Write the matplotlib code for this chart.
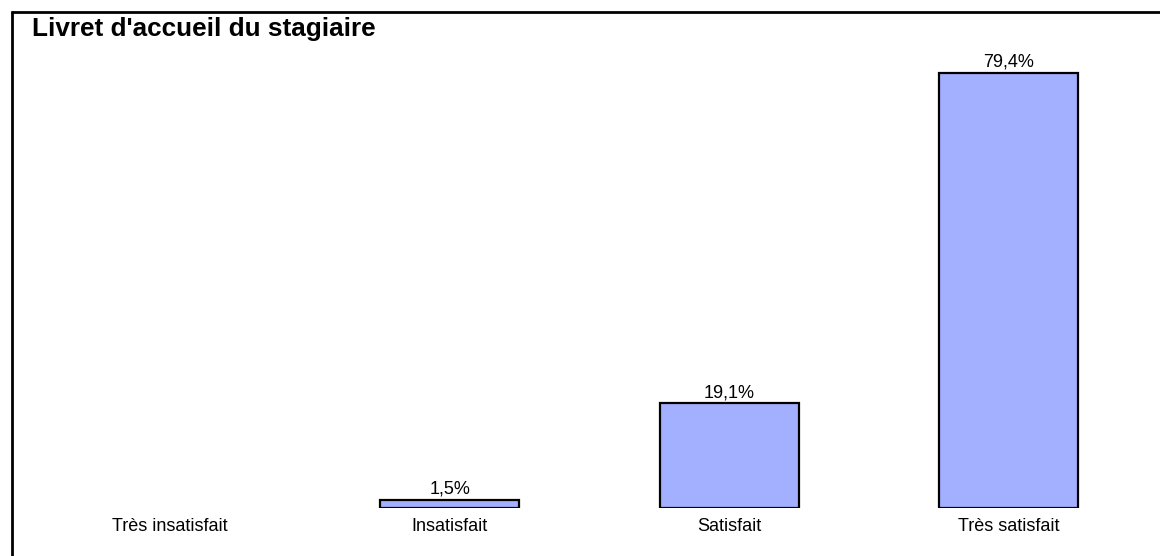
import matplotlib
matplotlib.use("Agg")
import matplotlib.pyplot as plt
from matplotlib.lines import Line2D

plt.rcParams['font.family'] = ['Liberation Sans', 'DejaVu Sans']

title = "Livret d'accueil du stagiaire"
categories = ["Très insatisfait", "Insatisfait", "Satisfait", "Très satisfait"]
values = [0.0, 1.5, 19.1, 79.4]
value_labels = ["", "1,5%", "19,1%", "79,4%"]

W, H = 1160, 556
fig = plt.figure(figsize=(W / 100, H / 100), dpi=100)

# axes: x from 30 to 1149 px, y baseline at 508 px, top at 40 px
left, right, bottom_px, top_px = 30.25, 1148.75, 508, 40
ax = fig.add_axes([left / W, (H - bottom_px) / H, (right - left) / W, (bottom_px - top_px) / H])
ax.set_xlim(-0.5, len(categories) - 0.5)
ax.set_ylim(0, (bottom_px - top_px) / 5.48)
ax.axis('off')

x = list(range(len(categories)))
for xi, v, lab in zip(x, values, value_labels):
    if v > 0:
        ax.bar(xi, v, width=0.497, color='#A3B0FF', edgecolor='black', linewidth=1.6)
        ax.annotate(lab, (xi, v), xytext=(0, 4.3), textcoords='offset points',
                    ha='center', va='baseline', fontsize=13)
for xi, c in zip(x, categories):
    ax.annotate(c, (xi, 0), xytext=(0, -16.6), textcoords='offset points',
                ha='center', va='baseline', fontsize=13)

fig.text(32 / W, 1 - 36 / H, title, fontsize=18.8, fontweight='bold',
         ha='left', va='baseline')

# frame lines (top and left only)
fig.add_artist(Line2D([10.5 / W, 1.0], [1 - 12 / H, 1 - 12 / H], color='black', linewidth=2,
                      solid_capstyle='butt', transform=fig.transFigure))
fig.add_artist(Line2D([11.5 / W, 11.5 / W], [0.0, 1 - 11 / H], color='black', linewidth=2,
                      solid_capstyle='butt', transform=fig.transFigure))

fig.savefig("out.png", dpi=100)
